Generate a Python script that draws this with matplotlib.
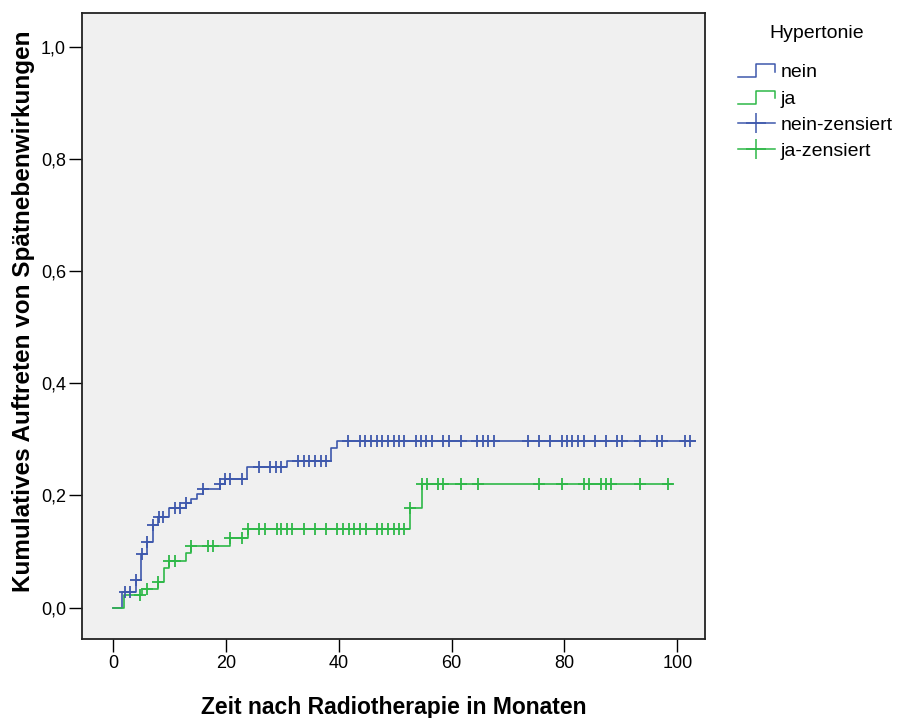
import numpy as np
import matplotlib
matplotlib.use("Agg")
import matplotlib.pyplot as plt
from matplotlib.lines import Line2D
from matplotlib.legend_handler import HandlerBase

plt.rcParams['font.family'] = ['Liberation Sans', 'DejaVu Sans']

# Ereignisse (Zeit in Monaten, kumulativer Anteil danach)
nein_t = [0, 1.5, 4.0, 5.0, 6.0, 7.0, 8.0, 9.9, 12.9, 13.9, 14.9, 15.9, 18.9, 19.8, 23.8, 30.8, 38.7, 39.7]
nein_v = [0, 0.028, 0.050, 0.095, 0.117, 0.148, 0.161, 0.178, 0.186, 0.194, 0.203, 0.211, 0.220, 0.230, 0.250, 0.261, 0.285, 0.297]
nein_end = 103.1
nein_cens = [2.1, 3.0, 4.0, 5.1, 6.0, 7.0, 8.1, 8.9, 11.0, 11.9, 12.9, 15.9, 19.0, 19.9, 20.8, 22.8,
             25.9, 27.8, 28.9, 29.8, 32.8, 33.8, 34.8, 35.8, 36.8, 37.7, 41.7, 43.8, 44.7, 45.7,
             46.7, 47.6, 48.7, 49.7, 50.7, 51.6, 53.7, 54.6, 55.4, 56.5, 58.5, 59.5, 61.6, 64.5,
             65.5, 66.5, 67.5, 73.6, 75.5, 77.4, 79.5, 80.4, 81.4, 82.4, 83.4, 85.4, 87.3, 89.3,
             90.2, 93.4, 96.4, 97.3, 101.3, 102.2]

ja_t = [0, 2.0, 5.1, 8.0, 9.0, 9.9, 12.9, 13.8, 20.8, 24.0, 52.6, 54.7]
ja_v = [0, 0.022, 0.034, 0.046, 0.071, 0.083, 0.097, 0.110, 0.124, 0.140, 0.178, 0.220]
ja_end = 99.1
ja_cens = [4.8, 6.0, 8.0, 9.9, 10.9, 13.8, 16.9, 17.8, 20.8, 22.8, 24.0, 25.9, 26.9, 29.0, 29.8,
           30.8, 31.8, 33.8, 35.8, 37.7, 39.7, 40.8, 41.8, 42.7, 43.8, 44.8, 46.7, 47.6, 48.7,
           49.7, 50.7, 51.6, 52.6, 54.7, 55.6, 57.6, 58.5, 61.6, 64.6, 75.5, 79.5, 83.4, 84.4,
           86.4, 87.3, 88.3, 93.4, 98.4]

yticks = [0.0, 0.2, 0.4, 0.6, 0.8, 1.0]
ytick_labels = ["0,0", "0,2", "0,4", "0,6", "0,8", "1,0"]
xticks = [0, 20, 40, 60, 80, 100]

blue = "#3E58AC"
green = "#2EB848"


def step_value(times, values, t):
    idx = np.searchsorted(times, t, side='right') - 1
    return np.array(values)[idx]


class StepHandler(HandlerBase):
    # kleines Treppensymbol wie in SPSS
    def create_artists(self, legend, orig_handle, xdescent, ydescent, width, height, fontsize, trans):
        x0 = -xdescent
        y0 = -ydescent
        xs = [x0, x0 + width * 0.5, x0 + width * 0.5, x0 + width, x0 + width]
        ys = [y0 + height * 0.0, y0 + height * 0.0, y0 + height * 0.95, y0 + height * 0.95, y0 + height * 0.4]
        ln = Line2D(xs, ys, color=orig_handle.get_color(), lw=1.1)
        ln.set_transform(trans)
        return [ln]


fig = plt.figure(figsize=(8.98, 7.18), dpi=100)
ax = fig.add_axes([82 / 898, 1 - 639 / 718, (705 - 82) / 898, (639 - 13) / 718])
ax.set_facecolor("#F0F0F0")

# Linien
h_nein, = ax.plot(nein_t + [nein_end], nein_v + [nein_v[-1]], drawstyle='steps-post', color=blue, lw=1.2)
h_ja, = ax.plot(ja_t + [ja_end], ja_v + [ja_v[-1]], drawstyle='steps-post', color=green, lw=1.2)

# zensierte Fälle
ax.plot(nein_cens, step_value(nein_t, nein_v, nein_cens), ls='none', marker='+', ms=9, mew=1.3, color=blue)
ax.plot(ja_cens, step_value(ja_t, ja_v, ja_cens), ls='none', marker='+', ms=9, mew=1.3, color=green)

ax.set_xlim(-5.5, 104.9)
ax.set_ylim(-0.056, 1.06)
ax.set_xticks(xticks)
ax.set_yticks(yticks)
ax.set_yticklabels(ytick_labels)
ax.tick_params(axis='both', direction='out', length=9.5, width=1.0, labelsize=13, pad=2, colors='black')

for s in ax.spines.values():
    s.set_linewidth(1.3)
    s.set_color("#222222")

ax.set_xlabel("Zeit nach Radiotherapie in Monaten", fontsize=16.5, fontweight='bold', labelpad=17)
ax.set_ylabel("Kumulatives Auftreten von Spätnebenwirkungen", fontsize=17.5, fontweight='bold')
ax.yaxis.set_label_coords(-0.0755, 0.524)

cens_nein = Line2D([], [], color=blue, lw=1.1, marker='+', ms=14, mew=1.1)
cens_ja = Line2D([], [], color=green, lw=1.1, marker='+', ms=14, mew=1.1)

fig.text(817 / 898, 1 - 34 / 718, "Hypertonie", fontsize=14, ha='center', va='center')
leg = fig.legend([h_nein, h_ja, cens_nein, cens_ja], ["nein", "ja", "nein-zensiert", "ja-zensiert"],
                 loc='upper left', bbox_to_anchor=(730 / 898, 1 - 56 / 718),
                 frameon=False, fontsize=14, handlelength=1.9,
                 handletextpad=0.3, labelspacing=0.44, borderaxespad=0,
                 handler_map={h_nein: StepHandler(), h_ja: StepHandler()})

plt.savefig("out.png", dpi=100)
